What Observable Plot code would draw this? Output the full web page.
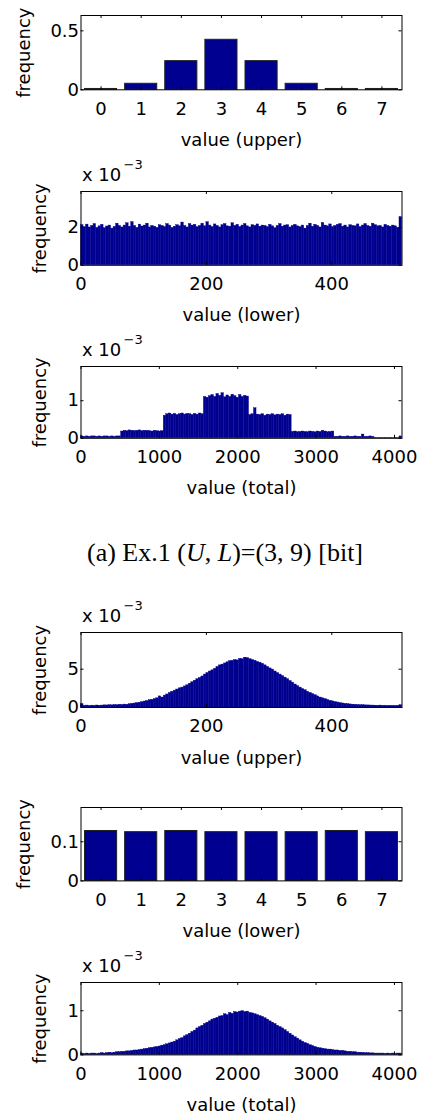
<!DOCTYPE html>
<html><head><meta charset="utf-8">
<script src="https://cdn.jsdelivr.net/npm/d3@7"></script>
<script src="https://cdn.jsdelivr.net/npm/@observablehq/plot@0.6"></script>
<style>
html,body{margin:0;padding:0;background:#fff;}
#page{position:relative;width:421px;height:1115px;overflow:hidden;background:#fff;}
.panel{position:absolute;left:0;}
#caption{position:absolute;left:0;width:450px;text-align:center;font-family:"Liberation Serif","Times New Roman",serif;font-size:26px;line-height:26px;top:540px;color:#000;white-space:nowrap;}
</style></head><body><div id="page"><div id="caption">(a) Ex.1 (<i>U</i>, <i>L</i>)=(3, 9) [bit]</div></div>
<script>
// ---------- data ----------
const barCategories = [0, 1, 2, 3, 4, 5, 6, 7];
const ex1UpperFreq = [0.007, 0.051, 0.243, 0.424, 0.243, 0.051, 0.007, 0.007];
// x 10^-3, groups of 4 values (0..511)
const ex1LowerFreq = [
2.12,2.02,2.15,2.0,2.08,2.18,1.98,2.06,2.14,1.96,2.05,2.1,1.94,2.03,2.2,2.08,
2.0,2.1,2.22,2.04,2.28,2.08,1.98,2.15,2.05,2.1,2.2,2.0,2.08,2.04,1.98,2.12,
2.08,2.02,2.18,2.1,1.98,2.04,2.12,2.06,2.26,2.08,2.0,2.18,2.1,2.14,2.02,2.08,
2.2,2.06,2.28,2.1,2.02,2.16,2.08,2.0,2.12,2.18,2.06,2.04,2.22,2.08,2.14,2.02,
2.1,2.18,2.06,2.0,2.12,2.08,2.16,2.04,2.1,2.08,2.02,2.14,2.06,1.96,2.08,2.18,
2.04,2.1,2.12,2.0,2.08,2.14,2.06,2.02,2.1,1.94,2.08,2.2,2.04,2.14,2.08,2.0,
2.24,2.1,2.06,2.16,2.02,2.08,2.14,2.18,2.04,2.1,2.0,2.12,2.08,2.06,2.16,2.02,
2.1,2.18,2.08,2.04,2.2,2.12,2.06,2.08,2.0,2.14,2.08,2.04,2.1,2.06,1.98,2.55];
// x 10^-3, groups of 32 values (0..4095)
const ex1TotalFreq = [
0.05,0.04,0.05,0.04,0.05,0.05,0.04,0.05,0.04,0.05,0.05,0.04,0.05,0.04,0.05,0.05,
0.18,0.2,0.19,0.21,0.2,0.19,0.2,0.21,0.19,0.2,0.2,0.19,0.18,0.2,0.19,0.18,0.19,
0.6,0.64,0.66,0.63,0.65,0.62,0.64,0.66,0.63,0.65,0.64,0.62,0.65,0.63,0.66,0.64,
1.1,1.08,1.12,1.15,1.1,1.18,1.13,1.2,1.09,1.14,1.1,1.16,1.12,1.08,1.15,1.1,1.13,1.11,
0.62,0.64,0.8,0.63,0.62,0.64,0.6,0.63,0.62,0.64,0.61,0.63,0.62,0.64,0.6,0.63,0.62,
0.17,0.18,0.16,0.17,0.18,0.17,0.16,0.18,0.17,0.16,0.18,0.17,0.2,0.18,0.16,0.17,0.18,
0.04,0.04,0.05,0.04,0.04,0.05,0.04,0.04,0.05,0.04,0.04,0.1,0.04,0.04,0.05,0.04,
0.015,0.01,0.015,0.01,0.015,0.01,0.015,0.01,0.015,0.01,0.05];
// x 10^-3, groups of 4 values (0..511)
const ex2UpperFreq = [
0.45,0.22,0.25,0.2,0.24,0.22,0.26,0.23,0.25,0.28,
0.27,0.3,0.28,0.32,0.3,0.35,0.33,0.38,0.36,0.42,
0.48,0.52,0.58,0.62,0.7,
0.78,0.85,0.95,1.0,1.1,
1.2,1.45,1.3,1.55,1.7,
1.9,2.05,2.2,2.35,2.5,
2.6,2.75,2.9,3.1,3.3,
3.5,3.7,3.85,4.05,4.3,
4.5,4.7,4.85,5.05,5.3,
5.5,5.6,5.75,5.9,6.05,
6.1,6.2,6.15,6.35,6.3,6.5,6.45,6.3,
6.2,6.1,5.95,5.85,5.7,
5.5,5.3,5.1,4.95,4.7,
4.5,4.3,4.1,3.9,3.7,
3.45,3.25,3.0,2.8,2.6,
2.4,2.25,2.05,1.9,1.75,
1.6,1.45,1.3,1.2,1.1,
0.98,0.88,0.8,0.72,0.65,
0.58,0.52,0.48,0.44,0.4,
0.37,0.35,0.32,0.3,0.3,0.28,0.27,0.26,
0.25,0.24,0.23,0.25,0.22,0.23,0.2,0.22,0.21,0.2,0.22,0.3];
const ex2LowerFreq = [0.1275, 0.1245, 0.1275, 0.1245, 0.1245, 0.1245, 0.1275, 0.1245];
// x 10^-3, groups of 32 values (0..4095)
const ex2TotalFreq = [
0.03,0.02,0.03,0.02,0.03,0.03,0.02,0.03,0.04,0.03,0.04,0.05,0.04,0.05,0.06,0.06,
0.07,0.07,0.08,0.08,0.09,0.1,0.1,0.11,0.12,0.13,0.14,0.15,0.16,0.17,0.18,0.19,
0.21,0.22,0.24,0.26,0.28,0.3,0.33,0.36,0.38,0.42,0.45,0.48,0.52,0.55,0.6,0.63,
0.66,0.7,0.73,0.76,0.8,0.82,0.84,0.87,0.88,0.92,0.9,0.95,0.93,0.97,0.96,0.98,
0.99,0.97,0.98,0.95,0.94,0.92,0.9,0.88,0.86,0.83,0.8,0.76,0.73,0.7,0.66,0.63,
0.6,0.56,0.52,0.48,0.44,0.4,0.37,0.33,0.3,0.27,0.25,0.22,0.2,0.18,0.16,0.15,
0.14,0.13,0.12,0.12,0.11,0.1,0.1,0.09,0.09,0.08,0.07,0.07,0.06,0.06,0.05,0.05,
0.045,0.04,0.04,0.035,0.035,0.03,0.03,0.03,0.03,0.025,0.03,0.025,0.03,0.025,0.03,0.03];

const lowerTicks = [0, 200, 400];
const totalTicks = [0, 1000, 2000, 3000, 4000];
const barYTicksUpper = [0, 0.5];
const barYTicksLower = [0, 0.1];

// ---------- drawing ----------
const NAVY = "#000090";
const page = document.getElementById("page");
const fmt = d => String(d);

function histTable(values, binWidth) {
  return values.map((v, i) => ({x1: i * binWidth, x2: (i + 1) * binWidth, y: v}));
}
function histMarks(values, binWidth) {
  return [Plot.rectY(histTable(values, binWidth), {x1: "x1", x2: "x2", y: "y", fill: NAVY, stroke: NAVY, strokeWidth: 0.4})];
}
function barMarks(values) {
  const t = barCategories.map((c, i) => ({c, v: values[i]}));
  return [Plot.rectY(t, {x1: d => d.c - 0.4, x2: d => d.c + 0.4, y: "v", fill: NAVY, stroke: "#222", strokeWidth: 1})];
}

function panel({frameTop, h, xDomain, yDomain, xTicks, yTicks, marks, xLabel, exponent, freqDx}) {
  const mt = 40, mb = 70, ml = 80.5, mr = 19.5;
  const w = 421 - ml - mr;
  const tk = 3;
  const extra = exponent ? [
    Plot.text(["x 10"], {frameAnchor: "top-left", textAnchor: "start", lineAnchor: "bottom", dy: -10.7, dx: 1, fill: "black"}),
    Plot.text(["\u22123"], {frameAnchor: "top-left", textAnchor: "start", lineAnchor: "bottom", dy: -22.5, dx: 42.5, fontSize: 13, fill: "black"})
  ] : [];
  const svg = Plot.plot({
    width: 421, height: mt + h + mb,
    marginTop: mt, marginBottom: mb, marginLeft: ml, marginRight: mr,
    style: {background: "none", overflow: "visible", fontFamily: "'DejaVu Sans', sans-serif", fontSize: "18px", color: "black"},
    x: {domain: xDomain},
    y: {domain: yDomain},
    marks: [
      ...marks,
      Plot.frame({stroke: "black", strokeWidth: 1}),
      Plot.tickX(xTicks, {x: d => d, stroke: "black", insetTop: h - tk}),
      Plot.tickX(xTicks, {x: d => d, stroke: "black", insetBottom: h - tk}),
      Plot.tickY(yTicks, {y: d => d, stroke: "black", insetRight: w - tk}),
      Plot.tickY(yTicks, {y: d => d, stroke: "black", insetLeft: w - tk}),
      Plot.axisX(xTicks, {tickSize: 0, tickPadding: 12, label: null, tickFormat: fmt}),
      Plot.axisY(yTicks, {tickSize: 0, tickPadding: 2, label: null, tickFormat: fmt}),
      Plot.text([xLabel], {frameAnchor: "bottom", textAnchor: "middle", lineAnchor: "bottom", dy: 56, fill: "black"}),
      Plot.text(["frequency"], {frameAnchor: "left", textAnchor: "middle", lineAnchor: "middle", rotate: -90, dx: freqDx, fill: "black"}),
      ...extra
    ]
  });
  const div = document.createElement("div");
  div.className = "panel";
  div.style.top = (frameTop - mt) + "px";
  div.appendChild(svg);
  page.appendChild(div);
}

panel({frameTop: 15, h: 74.3, xDomain: [-0.5, 7.5], yDomain: [0, 0.63], xTicks: barCategories, yTicks: barYTicksUpper,
  marks: barMarks(ex1UpperFreq), xLabel: "value (upper)", exponent: false, freqDx: -56.5});
panel({frameTop: 190.7, h: 73.8, xDomain: [0, 512], yDomain: [0, 3.9], xTicks: lowerTicks, yTicks: [0, 2],
  marks: histMarks(ex1LowerFreq, 4), xLabel: "value (lower)", exponent: true, freqDx: -40.5});
panel({frameTop: 365.7, h: 71.8, xDomain: [0, 4096], yDomain: [0, 1.91], xTicks: totalTicks, yTicks: [0, 1],
  marks: histMarks(ex1TotalFreq, 32), xLabel: "value (total)", exponent: true, freqDx: -40.5});
panel({frameTop: 631.7, h: 75, xDomain: [0, 512], yDomain: [0, 9.79], xTicks: lowerTicks, yTicks: [0, 5],
  marks: histMarks(ex2UpperFreq, 4), xLabel: "value (upper)", exponent: true, freqDx: -40.5});
panel({frameTop: 807.3, h: 73.4, xDomain: [-0.5, 7.5], yDomain: [0, 0.1875], xTicks: barCategories, yTicks: barYTicksLower,
  marks: barMarks(ex2LowerFreq), xLabel: "value (lower)", exponent: false, freqDx: -56.5});
panel({frameTop: 982.3, h: 72.4, xDomain: [0, 4096], yDomain: [0, 1.64], xTicks: totalTicks, yTicks: [0, 1],
  marks: histMarks(ex2TotalFreq, 32), xLabel: "value (total)", exponent: true, freqDx: -40.5});
</script></body></html>
